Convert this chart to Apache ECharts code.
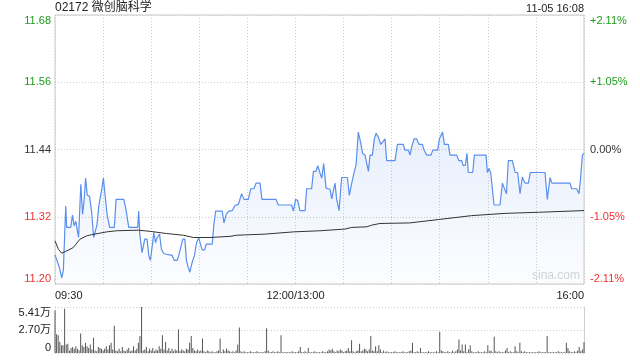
<!DOCTYPE html>
<html><head><meta charset="utf-8">
<script src="https://cdn.jsdelivr.net/npm/echarts@6/dist/echarts.min.js"></script>
<style>html,body{margin:0;padding:0;background:#fff}#c{width:640px;height:360px}</style>
</head><body><div id="c"></div>
<script>
const titleText = '02172 微创脑科学';
const stampText = '11-05 16:08';
const timeLabels = {0: '09:30', 150: '12:00/13:00', 330: '16:00'};
const priceLabels = ['11.20', '11.32', '11.44', '11.56', '11.68'];
const pctLabels = ['-2.11%', '-1.05%', '0.00%', '+1.05%', '+2.11%'];
const labelColors = ['#f03030', '#f03030', '#333333', '#1c9c1c', '#1c9c1c'];
const volLabels = ['0', '2.70万', '5.41万'];
const priceBase = 11.20, priceStep = 0.12, volMax = 54.1;

// [minute since 09:30 (trading minutes), price]
const pricePoints = [[0,11.252],[1,11.251],[2.7,11.230],[4.2,11.211],[5.2,11.224],[6.7,11.339],[7.3,11.301],[9.8,11.301],[10.9,11.323],[11.9,11.304],[13,11.312],[13.6,11.301],[14.7,11.283],[16.1,11.378],[17.2,11.324],[18.2,11.351],[19.1,11.389],[20.1,11.359],[21.6,11.356],[22.9,11.327],[24.1,11.283],[25.2,11.283],[26.2,11.306],[27.3,11.339],[28.3,11.342],[29.3,11.371],[30.2,11.389],[31,11.365],[32.5,11.324],[34.1,11.301],[37,11.301],[38.1,11.351],[42.9,11.351],[44.1,11.336],[46,11.301],[51.6,11.301],[52.2,11.330],[52.9,11.289],[54.3,11.256],[56,11.280],[57.4,11.280],[58.5,11.251],[59.5,11.242],[60.8,11.271],[61.6,11.292],[62.7,11.274],[63.7,11.283],[65.2,11.289],[66.4,11.262],[67.9,11.254],[68.9,11.251],[73.1,11.251],[74.5,11.242],[76.2,11.242],[77.2,11.251],[79.7,11.280],[81,11.280],[82,11.242],[83.1,11.230],[84.1,11.221],[85.6,11.239],[87,11.251],[88.3,11.274],[89.7,11.282],[90.8,11.280],[91.8,11.261],[93.3,11.261],[94.3,11.271],[98.1,11.271],[99.1,11.306],[100.2,11.330],[104.3,11.330],[105.4,11.309],[106.9,11.325],[108.5,11.330],[110.6,11.331],[112.3,11.340],[114.4,11.342],[116.4,11.361],[117.9,11.351],[120.6,11.351],[122.1,11.370],[124.1,11.370],[125.4,11.380],[127.9,11.380],[129.1,11.351],[137.9,11.351],[139.3,11.341],[147.6,11.341],[148.7,11.330],[150.1,11.351],[151.4,11.349],[152.8,11.331],[156,11.331],[157,11.370],[160.1,11.370],[161.2,11.401],[162.8,11.401],[163.9,11.411],[165.3,11.398],[166.4,11.389],[167.6,11.415],[169.1,11.371],[171.6,11.369],[172.6,11.352],[174.7,11.380],[175.7,11.351],[177.2,11.331],[178.8,11.390],[182.4,11.390],[183.6,11.358],[185.1,11.380],[186.5,11.398],[187.8,11.412],[189.2,11.471],[190.7,11.452],[191.9,11.433],[193.4,11.430],[195.5,11.401],[196.5,11.430],[198,11.430],[199.2,11.459],[200.3,11.469],[201.7,11.462],[203.2,11.449],[204.4,11.449],[205.9,11.459],[206.9,11.420],[212.1,11.420],[213.6,11.449],[217.3,11.449],[218.3,11.439],[220.4,11.439],[221.5,11.430],[222.5,11.445],[224,11.459],[225.6,11.459],[227.1,11.449],[229.2,11.449],[230.2,11.439],[231.9,11.430],[234.6,11.430],[235.6,11.439],[238.7,11.439],[239.8,11.459],[240.8,11.462],[241.8,11.471],[242.9,11.449],[245.4,11.449],[246.4,11.430],[250.6,11.430],[252,11.420],[253.7,11.420],[254.7,11.411],[256,11.412],[257,11.433],[257.8,11.399],[260.6,11.399],[261.6,11.430],[268.9,11.430],[269.7,11.399],[270.7,11.406],[271.8,11.398],[272.8,11.401],[273.9,11.341],[277.6,11.341],[279.1,11.380],[280.3,11.380],[281.6,11.361],[282.8,11.420],[285.3,11.420],[287,11.399],[288.6,11.399],[290.1,11.361],[291.5,11.391],[293.2,11.380],[295.3,11.380],[296.5,11.399],[305.7,11.399],[307.1,11.351],[308.8,11.390],[310,11.380],[321.3,11.380],[322.3,11.370],[325.4,11.370],[326.9,11.361],[327.9,11.390],[329,11.430],[330,11.433]];

// [minute, average price]
const avgPoints = [[0,11.277],[2.1,11.262],[4.2,11.255],[7.3,11.259],[11.4,11.265],[15.6,11.280],[19.8,11.286],[22.9,11.288],[32.2,11.293],[38.5,11.295],[52,11.296],[59.3,11.294],[69.7,11.290],[80.1,11.287],[86.3,11.283],[96.7,11.283],[109.2,11.285],[113.3,11.287],[114.4,11.289],[131,11.289],[132,11.291],[148.7,11.293],[165.3,11.295],[180.9,11.298],[185.1,11.301],[194.4,11.302],[197.5,11.305],[202.7,11.308],[221.4,11.309],[239.1,11.315],[259.9,11.322],[280.7,11.326],[301.5,11.328],[330,11.331]];

// volume per minute, thousands of shares
const volumes = [
50,22,21,13,9,9,52,10,11,3,
6,7,5,8,5,3,23,9,7,12,
8,6,10,4,18,3,2,7,6,5,
3,5,8,4,9,12,4,32,3,2,
5,2,7,3,2,4,6,2,3,8,
3,5,12,20,54.1,3,4,7,2,5,
3,6,2,4,3,8,5,21,4,13,
3,6,2,5,2,4,3,28,2,4,
3,2,5,4,12,20,6,3,2,4,
2,3,17,2,1,3,2,1,2,1,
1,2,3,17,1,4,2,5,3,2,
1,2,1,3,10,30,2,1,2,1,
1,1,2,1,1,1,2,1,1,1,
1,2,29,3,1,1,2,1,1,2,
1,21,1,1,1,1,1,1,2,1,
1,1,2,7,1,1,2,1,6,1,
1,1,2,1,1,1,1,2,1,1,
2,4,3,5,2,1,3,2,4,3,
1,2,3,6,2,15,2,1,2,3,
11,2,3,5,4,2,4,20,3,2,
8,2,9,4,1,3,1,2,1,1,
1,1,2,1,1,1,1,2,1,1,
1,2,3,12,1,1,2,1,6,1,
1,1,1,2,1,1,1,1,2,1,
25,3,2,1,1,2,1,1,3,1,
2,4,16,3,10,2,10,1,4,9,
2,1,1,1,2,1,1,1,2,1,
9,2,3,1,19,2,1,2,1,1,
1,3,6,1,2,1,1,8,2,1,
12,2,1,2,1,1,1,1,1,1,
1,1,2,1,1,1,1,20,1,1,
1,1,1,1,2,1,1,1,1,12,
6,2,1,1,2,1,3,7,2,4,
13];

const FONT = '"Liberation Sans", Arial, "Noto Sans CJK SC", sans-serif';
const toStep = p => (p - priceBase) / priceStep;
const dotted = {color: '#cccccc', type: [1, 2], width: 1};

const chart = echarts.init(document.getElementById('c'));
chart.setOption({
  animation: false,
  textStyle: {fontFamily: FONT},
  graphic: [
    {type: 'text', left: 55, top: 2, style: {text: titleText, fontSize: 12, fill: '#222', fontFamily: FONT}},
    {type: 'text', right: 56, top: 3, style: {text: stampText, fontSize: 11, fill: '#222', fontFamily: FONT}},
    {type: 'text', right: 60, top: 270, style: {text: 'sina.com', fontSize: 12, fill: '#d4d4d4', fontFamily: FONT}}
  ],
  grid: [
    {left: 55, right: 56, top: 15, height: 269, show: true, borderColor: '#c8c8c8', borderWidth: 1},
    {left: 55, right: 56, top: 307, height: 46}
  ],
  xAxis: [
    {type: 'value', gridIndex: 0, min: 0, max: 330, interval: 30,
     axisLine: {show: false}, axisTick: {show: false},
     splitLine: {show: true, lineStyle: dotted},
     axisLabel: {formatter: v => timeLabels[v] || '', fontSize: 11, color: '#222', margin: 6,
       showMinLabel: true, showMaxLabel: true, alignMinLabel: 'left', alignMaxLabel: 'right'}},
    {type: 'value', gridIndex: 1, min: 0, max: 330, interval: 30,
     axisLine: {show: false}, axisTick: {show: false}, splitLine: {show: false}, axisLabel: {show: false}}
  ],
  yAxis: [
    {type: 'value', gridIndex: 0, position: 'left', min: 0, max: 4, interval: 1,
     axisLine: {show: false}, axisTick: {show: false},
     splitLine: {show: true, lineStyle: dotted},
     axisLabel: {formatter: v => priceLabels[Math.round(v)], fontSize: 11, margin: 4,
       color: (v, i) => labelColors[Math.round(v)],
       verticalAlignMinLabel: 'bottom', verticalAlignMaxLabel: 'top'}},
    {type: 'value', gridIndex: 0, position: 'right', min: 0, max: 4, interval: 1,
     axisLine: {show: false}, axisTick: {show: false}, splitLine: {show: false},
     axisLabel: {formatter: v => pctLabels[Math.round(v)], fontSize: 11, margin: 6,
       color: (v, i) => labelColors[Math.round(v)],
       verticalAlignMinLabel: 'bottom', verticalAlignMaxLabel: 'top'}},
    {type: 'value', gridIndex: 1, position: 'left', min: 0, max: volMax, interval: volMax / 2,
     axisLine: {show: true, lineStyle: dotted}, axisTick: {show: false},
     splitLine: {show: true, lineStyle: dotted},
     axisLabel: {formatter: v => volLabels[Math.round(v / (volMax / 2))], fontSize: 11, color: '#222', margin: 4,
       verticalAlignMinLabel: 'bottom', verticalAlignMaxLabel: 'top'}},
    {type: 'value', gridIndex: 1, position: 'right', min: 0, max: volMax, interval: volMax / 2,
     axisLine: {show: true, lineStyle: {color: '#d0d0d0', width: 1}}, axisTick: {show: false},
     splitLine: {show: false}, axisLabel: {show: false}}
  ],
  series: [
    {type: 'line', xAxisIndex: 0, yAxisIndex: 0, showSymbol: false, symbol: 'none',
     data: pricePoints.map(([t, p]) => [t, toStep(p)]),
     lineStyle: {color: '#5a8fec', width: 1.2},
     areaStyle: {origin: 'start', color: new echarts.graphic.LinearGradient(0, 0, 0, 1, [
       {offset: 0, color: 'rgba(90,143,236,0.20)'}, {offset: 1, color: 'rgba(90,143,236,0.03)'}])},
     z: 3},
    {type: 'line', xAxisIndex: 0, yAxisIndex: 0, showSymbol: false, symbol: 'none',
     data: avgPoints.map(([t, p]) => [t, toStep(p)]),
     lineStyle: {color: '#333333', width: 1}, z: 4},
    {type: 'bar', xAxisIndex: 1, yAxisIndex: 2, barWidth: 1,
     data: volumes.map((v, i) => [i, v]),
     itemStyle: {color: '#555555'}}
  ]
});
</script></body></html>
